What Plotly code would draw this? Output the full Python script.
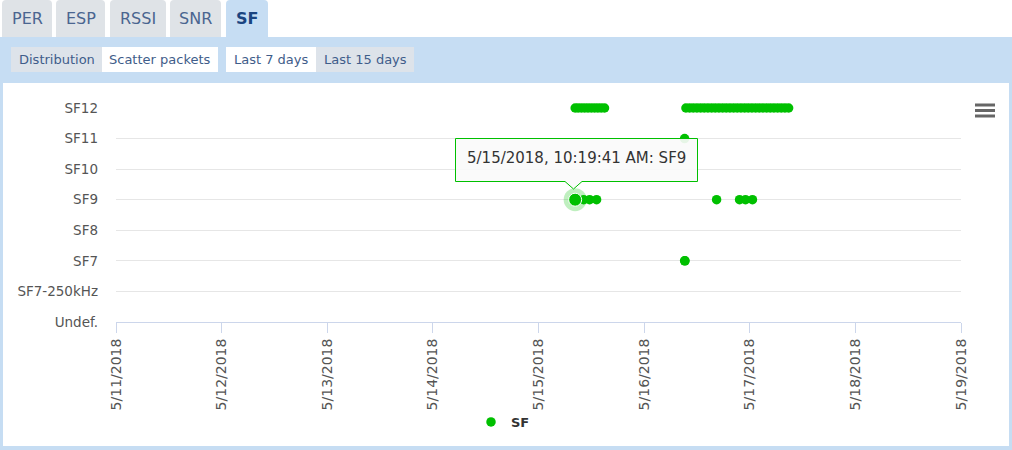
import plotly.graph_objects as go

# ---------------- data ----------------
sf_categories = ["Undef.", "SF7-250kHz", "SF7", "SF8", "SF9", "SF10", "SF11", "SF12"]

sf12_times = [
    "2018-05-15 08:20", "2018-05-15 09:00", "2018-05-15 09:45", "2018-05-15 10:30",
    "2018-05-15 11:15", "2018-05-15 12:00", "2018-05-15 12:45", "2018-05-15 13:30",
    "2018-05-15 14:15", "2018-05-15 15:00",
    "2018-05-16 09:30", "2018-05-16 10:20", "2018-05-16 11:10", "2018-05-16 12:00",
    "2018-05-16 12:50", "2018-05-16 13:40", "2018-05-16 14:30", "2018-05-16 15:20",
    "2018-05-16 16:10", "2018-05-16 17:00", "2018-05-16 17:50", "2018-05-16 18:40",
    "2018-05-16 19:30", "2018-05-16 20:20", "2018-05-16 21:10", "2018-05-16 22:00",
    "2018-05-16 22:50", "2018-05-16 23:40", "2018-05-17 00:30", "2018-05-17 01:20",
    "2018-05-17 02:10", "2018-05-17 03:00", "2018-05-17 03:50", "2018-05-17 04:40",
    "2018-05-17 05:30", "2018-05-17 06:20", "2018-05-17 07:10", "2018-05-17 08:00",
    "2018-05-17 08:50",
]
sf11_times = ["2018-05-16 09:12"]
sf9_times = [
    "2018-05-15 08:19:41", "2018-05-15 10:16", "2018-05-15 11:37", "2018-05-15 13:12",
    "2018-05-16 16:28", "2018-05-16 21:41", "2018-05-16 23:02", "2018-05-17 00:37",
]
sf7_times = ["2018-05-16 09:12", "2018-05-16 09:18"]

packet_times = sf12_times + sf11_times + sf9_times + sf7_times
packet_sf = (["SF12"] * len(sf12_times) + ["SF11"] * len(sf11_times)
             + ["SF9"] * len(sf9_times) + ["SF7"] * len(sf7_times))

hovered_time = "2018-05-15 08:19:41"
hovered_sf = "SF9"
tooltip_text = "5/15/2018, 10:19:41 AM: SF9"

x_start = "2018-05-11"
x_end = "2018-05-19"
day_ticks = ["2018-05-11", "2018-05-12", "2018-05-13", "2018-05-14", "2018-05-15",
             "2018-05-16", "2018-05-17", "2018-05-18", "2018-05-19"]

tab_labels = ["PER", "ESP", "RSSI", "SNR", "SF"]
button_labels = ["Distribution", "Scatter packets", "Last 7 days", "Last 15 days"]
legend_name = "SF"

# ---------------- layout helpers ----------------
W, H = 1012, 450
PL, PR, PT, PB = 116, 961, 108, 322
GREEN = "#00c000"
FONT = "DejaVu Sans"


def px(x):
    return (x - PL) / (PR - PL)


def py(y):
    return (PB - y) / (PB - PT)


def rect(x0, y0, x1, y1, color, line=None):
    return dict(type="rect", xref="paper", yref="paper", x0=px(x0), x1=px(x1),
                y0=py(y1), y1=py(y0), fillcolor=color,
                line=dict(width=0) if line is None else line, layer="below")


def tab_path(x0, x1, y0, y1, r=4):
    pts = (f"M {px(x0)},{py(y1)} L {px(x0)},{py(y0 + r)} "
           f"Q {px(x0)},{py(y0)} {px(x0 + r)},{py(y0)} "
           f"L {px(x1 - r)},{py(y0)} Q {px(x1)},{py(y0)} {px(x1)},{py(y0 + r)} "
           f"L {px(x1)},{py(y1)} Z")
    return pts


y_index = {c: i for i, c in enumerate(sf_categories)}

fig = go.Figure()
fig.add_trace(go.Scatter(
    x=packet_times, y=[y_index[s] for s in packet_sf], mode="markers",
    name=legend_name, marker=dict(color=GREEN, size=9.5, line=dict(width=0)),
    cliponaxis=False, hoverinfo="skip"))
# hover halo + enlarged point
fig.add_trace(go.Scatter(
    x=[hovered_time], y=[y_index[hovered_sf]], mode="markers", showlegend=False,
    marker=dict(color="rgba(0,192,0,0.25)", size=23, line=dict(width=0)),
    cliponaxis=False, hoverinfo="skip"))
fig.add_trace(go.Scatter(
    x=[hovered_time], y=[y_index[hovered_sf]], mode="markers", showlegend=False,
    marker=dict(color=GREEN, size=13, line=dict(width=1, color="#ffffff")),
    cliponaxis=False, hoverinfo="skip"))

shapes = []
# blue panel and white chart container
shapes.append(rect(0, 37, W, H, "#c6ddf3"))
shapes.append(rect(3, 83, 1009, 446, "#ffffff"))
# tabs
tab_x = [(2, 52), (56, 105), (110, 166), (170, 221), (226, 268)]
for i, (a, b) in enumerate(tab_x):
    col = "#c6ddf3" if i == len(tab_x) - 1 else "#dfe3e7"
    shapes.append(dict(type="path", xref="paper", yref="paper", path=tab_path(a, b, 0, 37),
                       fillcolor=col, line=dict(width=0), layer="below"))
# buttons
btn_x = [(11, 102), (102, 218), (226, 316), (316, 414)]
btn_col = ["#dde3ea", "#ffffff", "#ffffff", "#dde3ea"]
for (a, b), c in zip(btn_x, btn_col):
    shapes.append(rect(a, 47, b, 72, c))
# tooltip box with notch
tx0, tx1, ty0, ty1 = 455.5, 697.5, 138.5, 181.5
nx0, nx1, ntx, nty = 565, 582, 573.5, 189
tip = (f"M {px(tx0)},{py(ty0)} L {px(tx1)},{py(ty0)} L {px(tx1)},{py(ty1)} "
       f"L {px(nx1)},{py(ty1)} L {px(ntx)},{py(nty)} L {px(nx0)},{py(ty1)} "
       f"L {px(tx0)},{py(ty1)} Z")
shapes.append(dict(type="path", xref="paper", yref="paper", path=tip,
                   fillcolor="rgba(250,250,250,0.92)", line=dict(color=GREEN, width=1),
                   layer="above"))
# hamburger menu
for yy in (105, 110.5, 116):
    shapes.append(dict(type="line", xref="paper", yref="paper", x0=px(975), x1=px(995),
                       y0=py(yy), y1=py(yy), line=dict(color="#666666", width=3),
                       layer="above"))

annotations = []
tab_cx = [(a + b) / 2 for a, b in tab_x]
for i, (lab, cx) in enumerate(zip(tab_labels, tab_cx)):
    sel = i == len(tab_labels) - 1
    annotations.append(dict(
        x=px(cx), y=py(18), xref="paper", yref="paper", text=lab, showarrow=False,
        xanchor="center", yanchor="middle",
        font=dict(family=FONT, size=16, color="#1a4480" if sel else "#4a6590",
                  weight="bold" if sel else "normal")))
for lab, (a, b) in zip(button_labels, btn_x):
    annotations.append(dict(
        x=px((a + b) / 2), y=py(60), xref="paper", yref="paper", text=lab,
        showarrow=False, xanchor="center", yanchor="middle",
        font=dict(family=FONT, size=13, color="#3f5d8a")))
annotations.append(dict(
    x=px(576), y=py(158), xref="paper", yref="paper", text=tooltip_text,
    showarrow=False, xanchor="center", yanchor="middle",
    font=dict(family=FONT, size=15, color="#333333")))

fig.update_layout(
    width=W, height=H, autosize=False,
    margin=dict(l=PL, r=W - PR, t=PT, b=H - PB, pad=0),
    paper_bgcolor="#ffffff", plot_bgcolor="rgba(0,0,0,0)",
    shapes=shapes, annotations=annotations,
    showlegend=True,
    legend=dict(orientation="h", x=px(471), y=py(422), xanchor="left", yanchor="middle",
                font=dict(family=FONT, size=13, color="#333333", weight="bold"),
                bgcolor="rgba(0,0,0,0)", itemclick=False),
    hovermode=False,
    font=dict(family=FONT),
)
fig.update_xaxes(
    type="date", range=[x_start, x_end], tickvals=day_ticks, tickformat="%-m/%-d/%Y",
    tickangle=-90, ticks="outside", ticklen=10, tickcolor="#ccd6eb", tickwidth=1,
    showline=True, linecolor="#ccd6eb", linewidth=1, showgrid=False, zeroline=False,
    tickfont=dict(family=FONT, size=14, color="#555555"), fixedrange=True)
fig.update_yaxes(
    range=[0, 7], tickvals=list(range(len(sf_categories))), ticktext=sf_categories,
    showgrid=True, gridcolor="#e6e6e6", gridwidth=1, zeroline=False, showline=False,
    ticks="", ticklabelstandoff=17,
    tickfont=dict(family=FONT, size=13.5, color="#555555"), fixedrange=True)

fig.write_html("out.html", config={"displayModeBar": False},
               post_script="document.body.style.margin='0';")
